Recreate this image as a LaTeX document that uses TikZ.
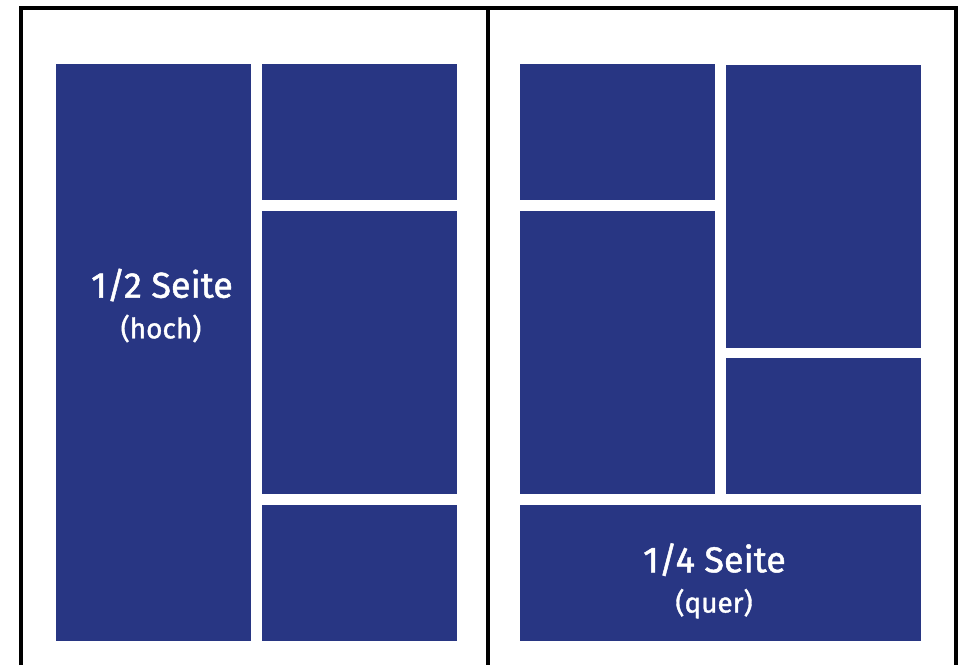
\documentclass[tikz,border=0pt]{standalone}
\usepackage{fontspec}
\setmainfont{Fira Sans}
\newfontfamily\labelfont[FakeBold=1.3]{Fira Sans}
\definecolor{blk}{RGB}{40,54,131}
\begin{document}
\begin{tikzpicture}[x=1pt,y=-1pt,
  panel/.style={fill=blk,draw=none},
  frameline/.style={draw=black,line width=3.5pt},
  big/.style={text=white,font=\labelfont\fontsize{36}{40}\selectfont,inner sep=0pt,anchor=base},
  small/.style={text=white,font=\labelfont\fontsize{28}{32}\selectfont,inner sep=0pt,anchor=base}]
\useasboundingbox (0,0) rectangle (962,665);
% frame
\draw[frameline] (21,665) -- (21,7.75) -- (956,7.75) -- (956,665);
\draw[frameline] (488,7.75) -- (488,665);
% left page
\fill[panel] (56,64) rectangle (251,641);
\fill[panel] (262,64) rectangle (457,200);
\fill[panel] (262,211) rectangle (457,494);
\fill[panel] (262,505) rectangle (457,641);
% right page
\fill[panel] (520,64) rectangle (715,200);
\fill[panel] (520,211) rectangle (715,494);
\fill[panel] (726,65) rectangle (921,348);
\fill[panel] (726,358) rectangle (921,494);
\fill[panel] (520,505) rectangle (921,641);
% labels
\node[big] (t1) at (162,297.7) {1/2 Seite};
\node[small] (t2) at (161,338.3) {(hoch)};
\node[big] (t3) at (714.5,572.3) {1/4 Seite};
\node[small] (t4) at (714,612.5) {(quer)};
\end{tikzpicture}
\end{document}
